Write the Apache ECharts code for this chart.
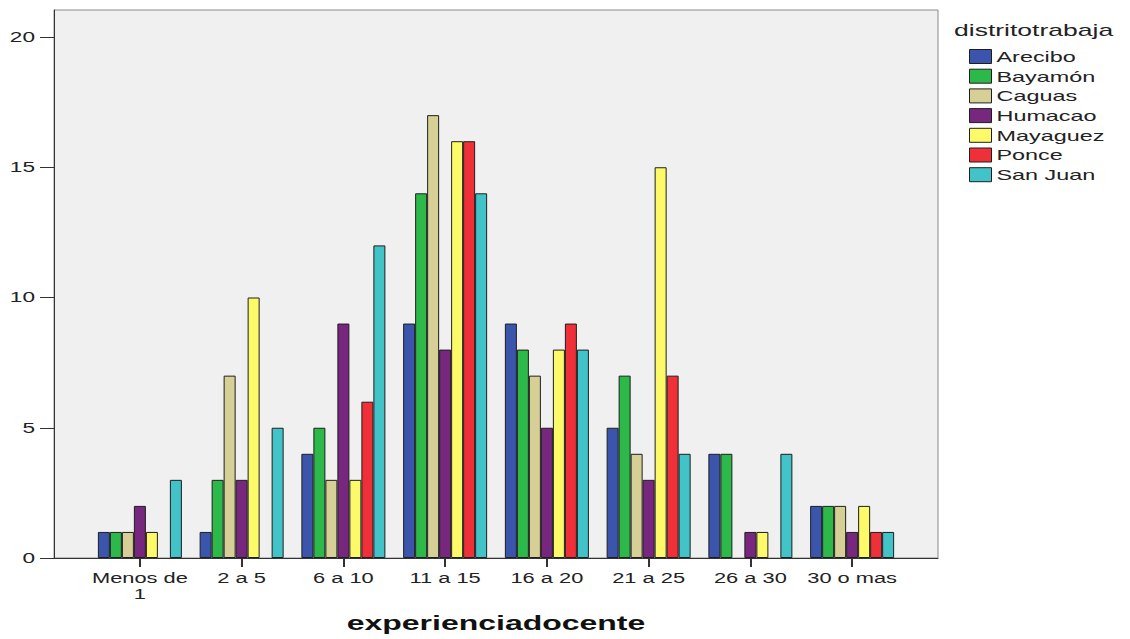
<!DOCTYPE html>
<html>
<head>
<meta charset="utf-8">
<script src="https://cdn.jsdelivr.net/npm/echarts@6/dist/echarts.min.js"></script>
<style>
  html, body { margin: 0; padding: 0; background: #fff; }
  #chart { width: 1130px; height: 639px; }
</style>
</head>
<body>
<div id="chart"></div>
<script>
// ---- data ----
const categories = ['Menos de\n1', '2 a 5', '6 a 10', '11 a 15', '16 a 20', '21 a 25', '26 a 30', '30 o mas'];
const seriesNames = ['Arecibo', 'Bayamón', 'Caguas', 'Humacao', 'Mayaguez', 'Ponce', 'San Juan'];
const arecibo  = [1, 1, 4, 9, 9, 5, 4, 2];
const bayamon  = [1, 3, 5, 14, 8, 7, 4, 2];
const caguas   = [1, 7, 3, 17, 7, 4, 0, 2];
const humacao  = [2, 3, 9, 8, 5, 3, 1, 1];
const mayaguez = [1, 10, 3, 16, 8, 15, 1, 2];
const ponce    = [0, 0, 6, 16, 9, 7, 0, 1];
const sanJuan  = [3, 5, 12, 14, 8, 4, 4, 1];
const yTicks = [0, 5, 10, 15, 20];
const xAxisTitle = 'experienciadocente';
const legendTitle = 'distritotrabaja';

const allValues = [arecibo, bayamon, caguas, humacao, mayaguez, ponce, sanJuan];
const colors = ['#3b55ad', '#2db84a', '#d6cf96', '#77277d', '#fdfa6a', '#ef3038', '#41c3c7'];
const FONT = 'Liberation Sans';

const chart = echarts.init(document.getElementById('chart'), null, { renderer: 'svg' });

const series = seriesNames.map((name, i) => ({
  name: name,
  type: 'bar',
  xAxisIndex: 1,
  yAxisIndex: 1,
  barWidth: 12,
  barGap: '0%',
  itemStyle: { color: colors[i], borderColor: '#1e1e1e', borderWidth: 1 },
  emphasis: { disabled: true },
  data: allValues[i].map(v => (v === 0 ? '-' : v))
}));

chart.setOption({
  animation: false,
  backgroundColor: '#ffffff',
  textStyle: { fontFamily: FONT, color: '#222' },
  title: {
    text: legendTitle,
    left: 954,
    top: 22,
    padding: 0,
    textStyle: { fontFamily: FONT, fontSize: 17, fontWeight: 'normal', color: '#222' }
  },
  legend: {
    orient: 'vertical',
    left: 969,
    top: 49,
    padding: 0,
    itemWidth: 22,
    itemHeight: 14,
    itemGap: 4.7,
    icon: 'rect',
    selectedMode: false,
    itemStyle: { borderColor: '#1e1e1e', borderWidth: 1 },
    textStyle: { fontFamily: FONT, fontSize: 15, color: '#222', lineHeight: 14, padding: [0, 0, 0, 0] },
    data: seriesNames
  },
  grid: [
    { left: 54, top: 10, width: 884, bottom: 81, show: true, backgroundColor: '#f0f0f0', borderColor: '#8a8a8a', borderWidth: 1 },
    { left: 89, top: 37, width: 814, bottom: 81, show: false }
  ],
  xAxis: [
    {
      gridIndex: 0, type: 'value', min: 0, max: 1,
      axisLine: { show: true, lineStyle: { color: '#333', width: 1 } },
      axisTick: { show: false }, axisLabel: { show: false }, splitLine: { show: false }
    },
    {
      gridIndex: 1, type: 'category', data: categories, boundaryGap: true,
      axisLine: { show: false },
      axisTick: { show: true, alignWithLabel: true, length: 9, lineStyle: { color: '#333', width: 2 } },
      axisLabel: { interval: 0, margin: 12, fontFamily: FONT, fontSize: 14, lineHeight: 16, color: '#222' },
      name: xAxisTitle,
      nameLocation: 'middle',
      nameGap: 55,
      nameTextStyle: { fontFamily: FONT, fontSize: 20.5, fontWeight: 'bold', color: '#111' },
      splitLine: { show: false }
    }
  ],
  yAxis: [
    {
      gridIndex: 0, type: 'value', min: 0, max: 1,
      axisLine: { show: true, lineStyle: { color: '#333', width: 1 } },
      axisTick: { show: false }, axisLabel: { show: false }, splitLine: { show: false }
    },
    {
      gridIndex: 1, type: 'value', min: yTicks[0], max: yTicks[yTicks.length - 1], interval: 5,
      offset: 35,
      axisLine: { show: false },
      axisTick: { show: true, length: 14, lineStyle: { color: '#333', width: 1 } },
      axisLabel: { margin: 19, fontFamily: FONT, fontSize: 14.5, color: '#222' },
      splitLine: { show: false }
    }
  ],
  series: series
});

// the reference's text is horizontally stretched; widen each text around its own anchor
function stretchTexts() {
  document.querySelectorAll('#chart svg text').forEach(t => {
    if (t.getAttribute('data-st')) return;
    const x = parseFloat(t.getAttribute('x') || '0');
    const orig = t.getAttribute('transform') || '';
    const s = 1.56;
    t.setAttribute('transform', (orig + ' translate(' + x + ' 0) scale(' + s + ' 1) translate(' + (-x) + ' 0)').trim());
    t.setAttribute('data-st', '1');
  });
}
stretchTexts();
chart.on('finished', stretchTexts);
</script>
</body>
</html>
